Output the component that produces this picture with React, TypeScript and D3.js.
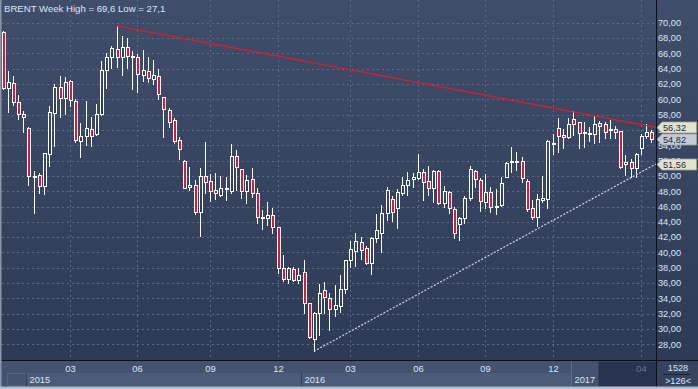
import React from "react";
import * as d3 from "d3";

// ---- data (weekly BRENT candles) ----
const opens = [68.75,61.44,62.09,59.61,58.04,56.21,49.95,50.12,48.64,52.82,58.17,61.57,60.13,62.43,59.74,54.52,55.17,56.12,55.43,58.04,63.82,65.48,66.53,65.48,66.87,65.48,65.48,63.13,63.69,62.69,63.04,60.26,58.6,57.3,54.69,51.91,48.51,48.81,45.33,49.99,49.33,48.12,47.51,48.25,48.03,52.6,50.86,48.07,49.6,47.73,44.46,44.46,44.9,43.29,37.94,36.54,37.81,36.41,37.41,33.37,28.67,32.14,35.06,34.02,32.66,33.05,35.2,39.02,40.23,41.33,40.55,38.67,41.93,42.58,45.12,46.94,45.77,47.81,48.77,49.56,49.76,50.47,49.33,48.46,50.64,46.5,47.86,45.68,43.68,44.46,47.15,50.68,49.46,46.63,47.86,45.98,46.16,49.9,51.78,51.85,51.94,49.37,45.77,44.59,46.85,46.98,54.26,56.21,55.34,55.12,57.39,57.0,55.56,55.43,55.43,56.87,56.77,55.95,56.12,55.86,51.51,51.78,50.99,53.6,55.25,55.69];
const highs = [68.92,63.69,63.04,60.56,58.51,56.42,50.64,50.42,53.03,59.12,62.0,63.04,62.95,62.52,60.04,56.87,59.78,57.65,59.39,65.0,66.0,66.96,69.6,68.26,67.96,66.31,65.91,66.44,65.56,65.13,63.92,60.34,58.9,57.52,55.04,52.08,51.2,49.46,51.03,54.43,50.25,50.34,49.99,49.82,54.16,53.38,50.86,50.12,50.99,48.38,45.55,46.63,45.77,43.29,39.67,38.15,38.07,37.94,39.02,33.37,32.27,35.89,36.15,34.67,35.76,37.06,39.02,41.5,42.51,42.06,40.85,41.98,45.03,46.2,48.59,47.38,48.29,49.82,50.47,50.42,52.86,50.86,51.29,50.77,50.77,48.62,48.07,45.9,44.67,47.38,51.29,50.77,49.69,50.21,48.59,48.25,49.82,51.85,53.73,53.16,52.43,49.56,46.85,47.64,49.99,54.69,55.47,57.6,56.12,57.52,58.47,57.08,57.0,56.42,57.82,57.21,57.0,57.3,56.55,55.86,52.73,52.17,53.03,55.43,56.74,55.99];
const lows = [61.34,58.38,59.26,57.39,55.77,48.85,45.2,47.81,47.6,51.33,53.94,57.73,58.08,59.16,54.39,52.51,54.03,53.94,55.4,57.95,61.44,64.05,64.26,63.13,64.05,61.3,60.99,62.43,62.3,62.0,60.08,55.12,56.42,54.33,52.25,48.38,48.16,45.03,42.19,47.73,46.76,46.98,47.38,46.85,47.81,48.16,47.15,46.42,47.28,43.89,43.11,43.59,42.51,37.36,36.32,35.98,36.28,36.06,32.14,28.8,27.1,29.23,32.14,29.88,31.75,32.27,34.75,38.07,38.24,39.15,38.5,37.19,41.41,40.1,44.24,44.11,43.24,47.51,47.51,48.59,49.6,46.85,47.51,46.55,46.29,45.94,45.12,41.85,41.63,43.81,46.85,48.59,45.42,45.77,45.33,45.03,46.07,49.82,50.51,50.77,49.24,45.46,44.37,43.46,46.63,45.77,52.82,53.08,53.68,54.91,55.34,53.6,53.81,54.56,54.26,54.46,54.91,54.91,54.99,51.07,50.12,49.9,49.9,52.82,54.91,54.46];
const closes = [61.51,62.22,59.61,58.04,57.65,49.95,50.03,48.64,52.95,58.3,61.57,60.13,62.22,59.91,54.65,55.17,56.21,55.17,58.04,63.82,65.48,66.66,65.48,66.87,65.65,65.65,63.26,63.82,62.74,63.17,60.65,58.69,57.08,54.6,53.47,48.46,48.81,45.25,49.99,49.24,48.07,47.81,48.38,48.38,52.6,51.2,48.07,49.46,47.81,44.59,44.59,44.9,43.29,37.94,36.5,37.94,36.41,37.02,33.37,29.01,32.06,34.67,34.15,32.58,33.15,35.2,39.02,40.46,41.5,40.33,38.67,41.85,42.94,45.2,48.16,45.25,47.9,48.81,49.46,49.82,50.47,49.24,48.38,50.64,46.42,48.09,45.77,42.51,44.46,47.15,50.86,49.56,46.72,47.86,45.98,46.07,49.03,51.64,51.98,51.98,49.69,45.64,44.59,46.98,47.08,54.56,54.33,55.25,55.04,56.77,56.77,55.64,55.69,55.56,56.77,56.55,55.69,56.12,55.69,51.2,51.85,50.99,52.82,55.25,55.69,54.82];

const yTicks = d3.range(28, 71, 2);
const monthTickBars = [13, 26, 40, 53, 67, 80, 93, 106, 123];
const monthTickLabels = ["03", "06", "09", "12", "03", "06", "09", "12", "04"];
const yearStartBars = [5, 58, 110];
const yearLabels = ["2015", "2016", "2017"];

// trend lines: [bar index, price]
const resistanceLine: [number, number][] = [[22, 69.6], [125.9, 56.32]];
const supportLine: [number, number][] = [[60, 27.1], [125.9, 51.56]];

const priceMarkers = [
  { value: 56.32, fill: "#e3e3cb" },
  { value: 54.82, fill: "#c6cad8" },
  { value: 51.56, fill: "#e3e3cb" },
];

const titleText = "BRENT Week High = 69,6 Low = 27,1";
const counterTop = "1528";
const counterBottom = ">126<";

const W = 698;
const H = 389;
const PLOT_R = 656;
const AXIS_Y = 360.5;

const fmt = (v: number) => v.toFixed(2).replace(".", ",");

export default function App() {
  const x = d3.scaleLinear().domain([0, 125]).range([2.5, 651.3]);
  const y = d3.scaleLinear().domain([28, 70]).range([344.4, 22.7]);
  const font = "'Liberation Sans', Arial, sans-serif";
  const textCol = "#dbe6f8";
  const gridCol = "#5b6985";

  const line = d3
    .line<[number, number]>()
    .x((d) => x(d[0]))
    .y((d) => y(d[1]));

  const monthX = monthTickBars.map((b) => Math.round(x(b)) + 0.5);
  const yearX = yearStartBars.map((b) => Math.round(x(b - 0.5)));

  return (
    <svg width={W} height={H} style={{ position: "absolute", left: 0, top: 0, display: "block" }}>
      <defs>
        <linearGradient id="bg" x1="0" y1="0" x2="0" y2="1">
          <stop offset="0" stopColor="#404e6b" />
          <stop offset="1" stopColor="#2c3955" />
        </linearGradient>
        <clipPath id="plotClip">
          <rect x={2} y={0} width={PLOT_R - 2} height={AXIS_Y} />
        </clipPath>
      </defs>
      <rect x={0} y={0} width={W} height={H} fill="url(#bg)" />

      {/* grid */}
      <g>
        {yTicks.map((t) => (
          <line key={t} x1={2} x2={PLOT_R} y1={Math.round(y(t)) + 0.5} y2={Math.round(y(t)) + 0.5}
            stroke={gridCol} strokeDasharray="2,3" strokeWidth={1} />
        ))}
        {monthX.map((mx, i) => (
          <line key={i} x1={mx} x2={mx} y1={0} y2={AXIS_Y} stroke={gridCol} strokeDasharray="2,3" />
        ))}
      </g>

      {/* candles */}
      <g clipPath="url(#plotClip)">
        {opens.map((o, i) => {
          const c = closes[i];
          const h = highs[i];
          const l = lows[i];
          const cx = Math.round(x(i));
          const up = c >= o;
          const top = Math.round(y(Math.max(o, c))) + 0.5;
          let bot = Math.round(y(Math.min(o, c))) + 0.5;
          if (bot - top < 1) bot = top + 1;
          const yh = Math.round(y(h));
          const yl = Math.round(y(l)) + 1;
          return (
            <g key={i}>
              {yh < top && <line x1={cx + 0.5} x2={cx + 0.5} y1={yh} y2={top} stroke="#ffffff" />}
              {yl > bot && <line x1={cx + 0.5} x2={cx + 0.5} y1={bot} y2={yl} stroke="#ffffff" />}
              <rect x={cx - 0.5} y={top} width={3} height={bot - top}
                fill={up ? "url(#bg)" : "#e0153a"} stroke="#ffffff" strokeWidth={1} />
            </g>
          );
        })}
        <path d={line(resistanceLine) || ""} fill="none" stroke="#e01c2a" strokeWidth={1.3} />
        <path d={line(supportLine) || ""} fill="none" stroke="#cfd6e4" strokeWidth={1.2} strokeDasharray="2,1.6" />
      </g>

      {/* title */}
      <text x={4} y={11.5} fill={textCol} fontFamily={font} fontSize={9.6}>{titleText}</text>

      {/* bottom axis */}
      <rect x={0} y={AXIS_Y} width={PLOT_R} height={26} fill="#43526e" />
      <rect x={yearX[0]} y={373} width={yearX[2] - yearX[0]} height={13} fill="#4c5b79" />
      <rect x={7.5} y={373.5} width={21} height={12.5} fill="#46556f" stroke="#56657f" />
      <line x1={yearX[0] + 0.5} x2={yearX[0] + 0.5} y1={373} y2={386} stroke="#34415b" />
      <line x1={yearX[1] + 0.5} x2={yearX[1] + 0.5} y1={373} y2={386} stroke="#34415b" />
      <rect x={yearX[2]} y={AXIS_Y + 1} width={27} height={25} fill="#43526f" />
      <line x1={yearX[2] + 0.5} x2={yearX[2] + 0.5} y1={AXIS_Y} y2={386} stroke="#5d6c88" />
      <rect x={yearX[2] + 27} y={AXIS_Y + 1} width={PLOT_R - yearX[2] - 27} height={25} fill="#28344f" />
      <line x1={yearX[2] + 27.5} x2={yearX[2] + 27.5} y1={AXIS_Y} y2={386} stroke="#34415b" />
      {monthTickLabels.map((lab, i) => (
        <text key={i} x={monthX[i]} y={372} textAnchor="middle" fontFamily={font} fontSize={9.3}
          fill={i === monthTickLabels.length - 1 ? "#66738f" : textCol}>{lab}</text>
      ))}
      {yearLabels.map((lab, i) => (
        <text key={lab} x={yearX[i] + 3.5} y={383.3} fontFamily={font} fontSize={9.3} fill={textCol}>{lab}</text>
      ))}

      {/* right axis */}
      {yTicks.map((t) => (
        <text key={t} x={658} y={y(t) + 3.3} fontFamily={font} fontSize={9.2} fill={textCol}>{fmt(t)}</text>
      ))}
      {priceMarkers.map((m) => {
        const py = Math.round(y(m.value)) + 0.5;
        return (
          <g key={m.value}>
            <path d={`M657,${py} L662,${py - 5.5} L696.5,${py - 5.5} L696.5,${py + 5.5} L662,${py + 5.5} Z`}
              fill={m.fill} stroke="#9ea293" strokeWidth={0.8} />
            <text x={663} y={py + 3.3} fontFamily={font} fontSize={9.2} fill="#1c2846">{fmt(m.value)}</text>
          </g>
        );
      })}

      {/* bottom-right counter */}
      <rect x={PLOT_R + 1} y={AXIS_Y + 0.5} width={W - PLOT_R - 1} height={26} fill="#36435f" />
      <text x={678} y={370.7} textAnchor="middle" fontFamily={font} fontSize={9.2} fill={textCol}>{counterTop}</text>
      <line x1={663} x2={690} y1={374.5} y2={374.5} stroke="#1c2538" />
      <text x={678} y={384} textAnchor="middle" fontFamily={font} fontSize={9.2} fill={textCol}>{counterBottom}</text>

      {/* frame */}
      <line x1={PLOT_R + 0.5} x2={PLOT_R + 0.5} y1={0} y2={387} stroke="#0b0f18" />
      <line x1={0} x2={W} y1={AXIS_Y} y2={AXIS_Y} stroke="#0b0f18" />
      <rect x={0} y={0} width={1.5} height={H} fill="#8d96a8" />
      <rect x={0} y={386.5} width={W} height={2.5} fill="#b7bfcd" />
    </svg>
  );
}
